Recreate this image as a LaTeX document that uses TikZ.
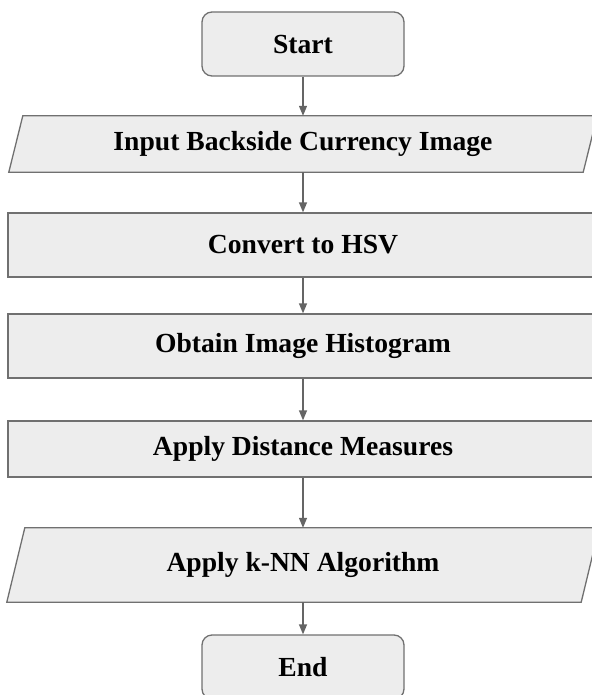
\documentclass[tikz,border=0pt]{standalone}
\usepackage{fontspec}
\setmainfont{Liberation Serif}
\usetikzlibrary{arrows.meta,backgrounds}
\definecolor{boxfill}{HTML}{EDEDED}
\definecolor{boxline}{HTML}{707070}
\tikzset{every node/.style={font=\fontsize{27.6}{33}\selectfont\bfseries,text=black,inner sep=0pt},
  terminal/.style={draw=boxline,fill=boxfill,line width=1.3pt,rounded corners=10pt,
    minimum width=202pt,minimum height=64pt},
  process/.style={draw=boxline,fill=boxfill,line width=1.3pt,minimum width=590pt},
  iobox/.style={minimum width=574pt},
  ioshape/.style={draw=boxline,fill=boxfill,line width=1.3pt},
  flow/.style={draw=boxline!90!black,line width=1.3pt,-{Triangle[length=10pt,width=8pt]}}}

\begin{document}
\begin{tikzpicture}[x=1pt,y=-1pt]
\useasboundingbox (0,0) rectangle (591,695);
\node[terminal] (start) at (303,44) {Start};
\node[iobox,minimum height=56pt] (input) at (303,144) {Input Backside Currency Image};
\node[process,minimum height=64pt] (hsv) at (303,245) {Convert to HSV};
\node[process,minimum height=64pt] (hist) at (303,346) {Obtain Image Histogram};
\node[process,minimum height=56pt] (dist) at (303,449) {Apply Distance Measures};
\node[iobox,minimum height=74pt] (knn) at (303,565) {Apply k-NN Algorithm};
\node[terminal] (end) at (303,667) {End};
% slanted input/output boxes behind their text
\begin{scope}[on background layer]
\draw[ioshape] ([xshift=-7pt]input.south west) -- ([xshift=7pt]input.north west)
  -- ([xshift=7pt]input.north east) -- ([xshift=-7pt]input.south east) -- cycle;
\draw[ioshape] ([xshift=-9pt]knn.south west) -- ([xshift=9pt]knn.north west)
  -- ([xshift=9pt]knn.north east) -- ([xshift=-9pt]knn.south east) -- cycle;
\end{scope}
% arrows down the chart
\draw[flow] (start) -- (input);
\draw[flow] (input) -- (hsv);
\draw[flow] (hsv) -- (hist);
\draw[flow] (hist) -- (dist);
\draw[flow] (dist) -- (knn);
\draw[flow] (knn) -- (end);
\end{tikzpicture}
\end{document}
